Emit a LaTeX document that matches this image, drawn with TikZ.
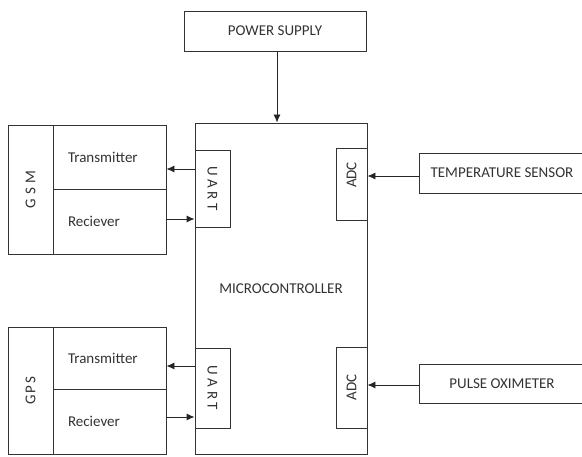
\documentclass[tikz,border=0pt]{standalone}
\usepackage{fontspec}
\setmainfont{Carlito}
\usetikzlibrary{arrows.meta}
\begin{document}
\begin{tikzpicture}[x=1pt,y=-1pt,
  box/.style={draw=black!80, line width=0.9pt, rectangle, inner sep=0pt, fill=white,
    text=black!80, font=\fontsize{15}{18}\selectfont},
  lbl/.style={inner sep=0pt, text=black!80, font=\fontsize{15}{18}\selectfont},
  side/.style={box, text width=83pt, inner xsep=15pt, align=left},
  arr/.style={draw=black!85, line width=0.9pt, -{Latex[length=8pt,width=7pt]}},
]
\useasboundingbox (0,0) rectangle (582,457);

% power supply and microcontroller
\node[box, minimum width=182pt, minimum height=40pt] (power) at (275,31) {POWER SUPPLY};
\node[box, minimum width=172pt, minimum height=331pt] (mcu) at (281,288.5) {MICROCONTROLLER};

% interface blocks on the microcontroller
\node[box, minimum width=35pt, minimum height=77pt] (uart1) at (212.5,188.5) {\rotatebox{-90}{\addfontfeature{LetterSpace=25}UART}};
\node[box, minimum width=35pt, minimum height=80pt] (uart2) at (212.5,388) {\rotatebox{-90}{\addfontfeature{LetterSpace=25}UART}};
\node[box, minimum width=31pt, minimum height=72pt] (adc1) at (351.5,184) {};
\node[lbl] (adc1t) at ([yshift=9pt]adc1.center) {\rotatebox{90}{ADC}};
\node[box, minimum width=31pt, minimum height=81pt] (adc2) at (351.5,387.5) {\rotatebox{90}{ADC}};

% sensors
\node[box, minimum width=166pt, minimum height=40pt] (temp) at (502,173) {TEMPERATURE SENSOR};
\node[box, minimum width=166pt, minimum height=39pt] (pulse) at (502,383.5) {PULSE OXIMETER};

% GSM module
\node[box, minimum width=45pt, minimum height=129pt] (gsm) at (30.5,189.5) {\rotatebox{90}{\addfontfeature{LetterSpace=30}GSM}};
\node[side, minimum height=64pt] (gsmtx) at (109.5,157) {Transmitter};
\node[side, minimum height=65pt] (gsmrx) at (109.5,221.5) {Reciever};

% GPS module
\node[box, minimum width=45pt, minimum height=127pt] (gps) at (30.5,390.5) {\rotatebox{90}{\addfontfeature{LetterSpace=10}GPS}};
\node[side, minimum height=62pt] (gpstx) at (109.5,358) {Transmitter};
\node[side, minimum height=65pt] (gpsrx) at (109.5,421.5) {Reciever};

% connectors
\coordinate (p) at ([xshift=2pt]power.south);
\draw[arr] (p) -- (p |- mcu.north);

\coordinate (t) at ([yshift=-3pt]temp.west);
\draw[arr] (t) -- (t -| adc1.east);
\coordinate (o) at ([yshift=-1.5pt]pulse.west);
\draw[arr] (o) -- (o -| adc2.east);

\coordinate (g1) at ([yshift=-12pt]gsmtx.east);
\draw[arr] (g1 -| uart1.west) -- (g1);
\coordinate (g2) at ([yshift=2.5pt]gsmrx.east);
\draw[arr] (g2) -- (g2 -| uart1.west);

\coordinate (s1) at ([yshift=-8pt]gpstx.east);
\draw[arr] (s1 -| uart2.west) -- (s1);
\coordinate (s2) at ([yshift=4.5pt]gpsrx.east);
\draw[arr] (s2) -- (s2 -| uart2.west);
\end{tikzpicture}
\end{document}
